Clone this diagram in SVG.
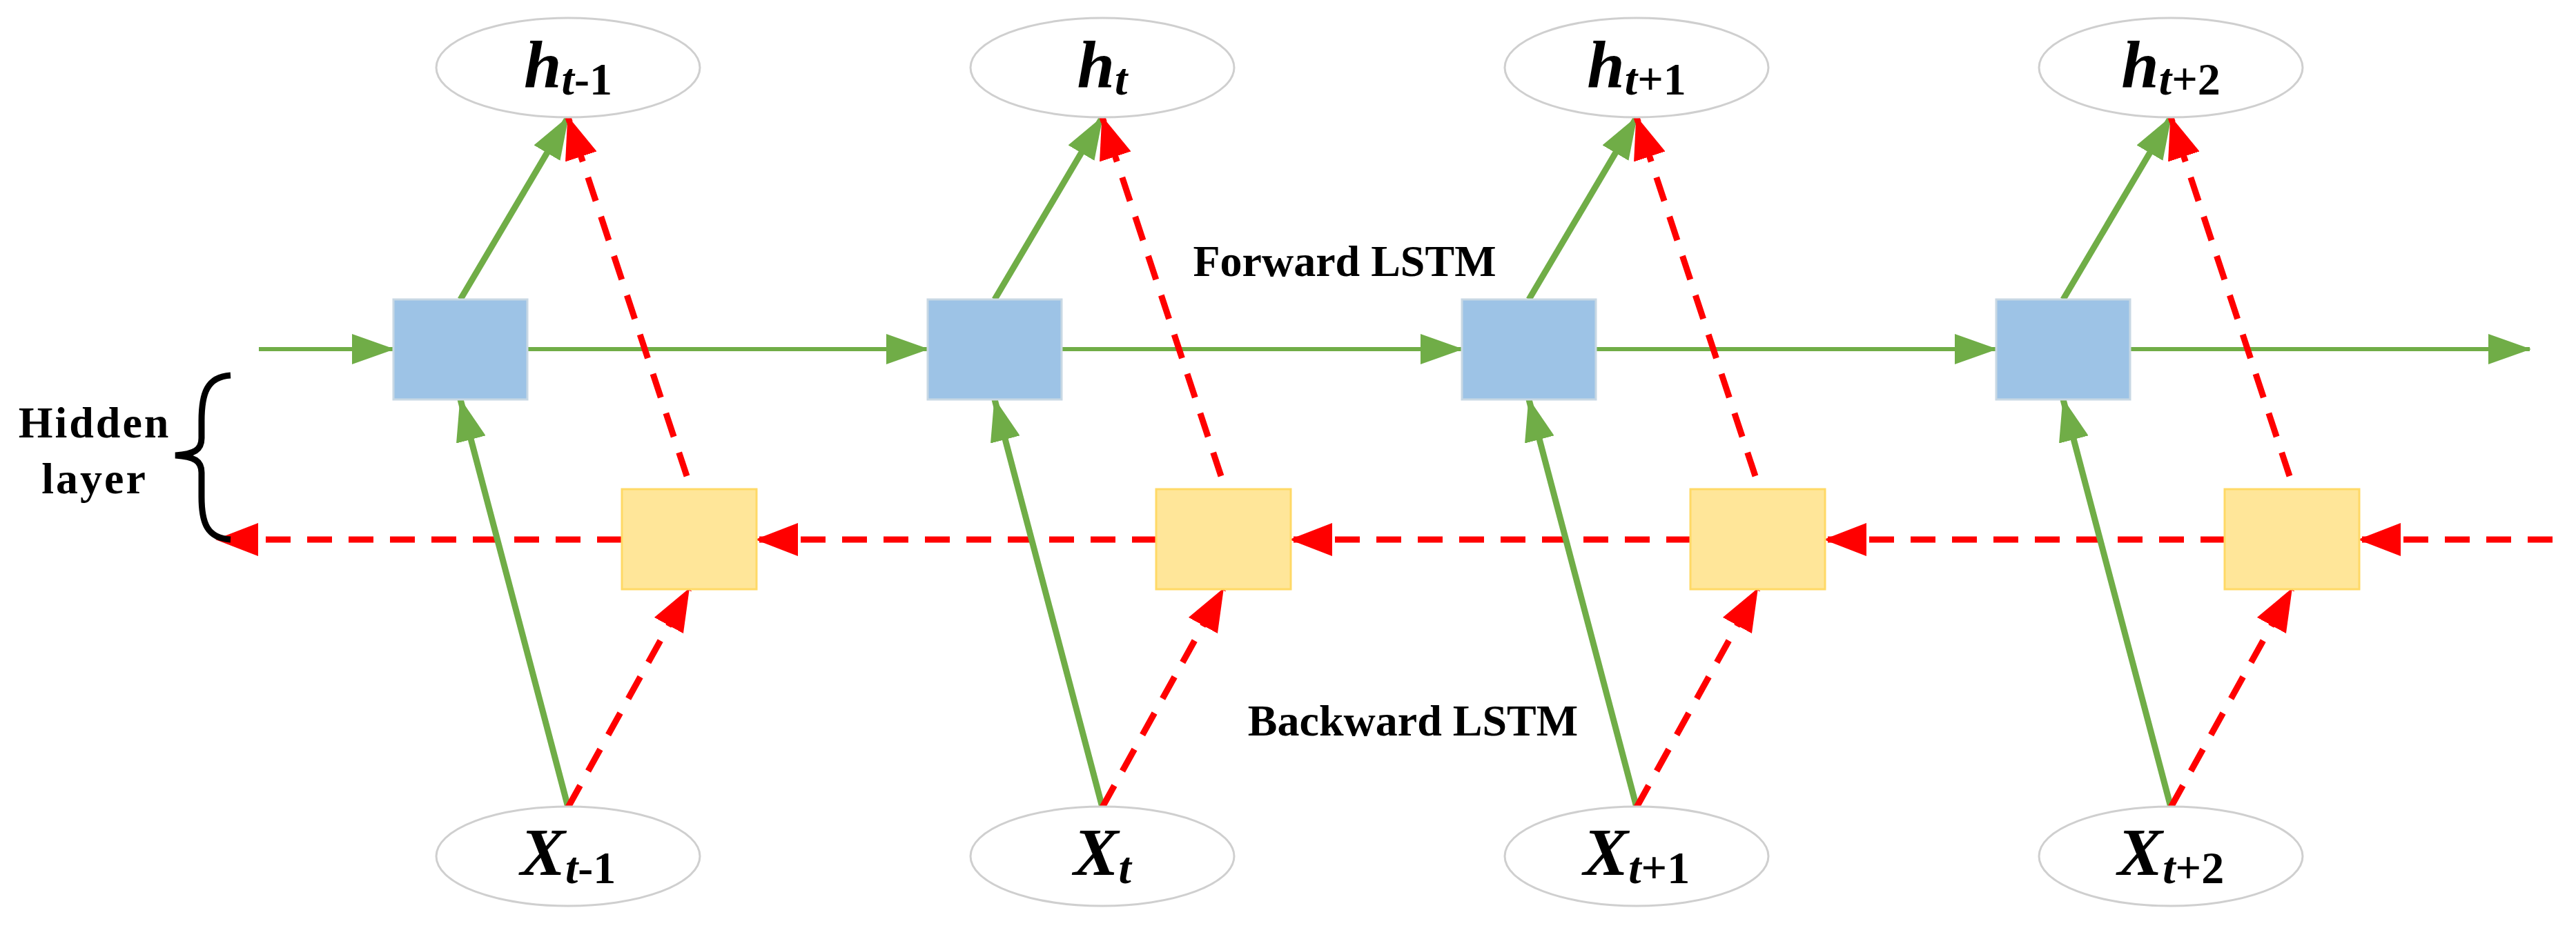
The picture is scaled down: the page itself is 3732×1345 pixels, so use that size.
<svg xmlns="http://www.w3.org/2000/svg" width="3732" height="1345" viewBox="0 0 3732 1345">
<style>
.ell{fill:#fff;stroke:#cfcfcf;stroke-width:3}
.fw{fill:#9dc3e6;stroke:#c8d8e4;stroke-width:3}
.bw{fill:#ffe699;stroke:#ffd966;stroke-width:3}
.g{stroke:#70ad47;stroke-width:9;fill:none}
.gh{stroke:#70ad47;stroke-width:6;fill:none}
.r{stroke:#ff0000;stroke-width:9;fill:none;stroke-dasharray:36 24}
.lbl{font-family:"Liberation Serif",serif;font-weight:bold;font-style:italic;font-size:98px;fill:#000}
.sub{font-size:66px}
.up{font-style:normal}
.t{font-family:"Liberation Serif",serif;font-weight:bold;font-size:64px;fill:#000}
</style>
<defs>
<marker id="ag" markerUnits="userSpaceOnUse" markerWidth="62" markerHeight="44" refX="60" refY="22" orient="auto"><path d="M0,0 L62,22 L0,44 z" fill="#70ad47"/></marker>
<marker id="ar" markerUnits="userSpaceOnUse" markerWidth="62" markerHeight="48" refX="60" refY="24" orient="auto"><path d="M0,0 L62,24 L0,48 z" fill="#ff0000"/></marker>
</defs>
<g id="connectors">
<line class="gh" x1="375" y1="506" x2="570" y2="506" marker-end="url(#ag)"/>
<line class="gh" x1="764" y1="506" x2="1344" y2="506" marker-end="url(#ag)"/>
<line class="gh" x1="1538" y1="506" x2="2118" y2="506" marker-end="url(#ag)"/>
<line class="gh" x1="2312" y1="506" x2="2892" y2="506" marker-end="url(#ag)"/>
<line class="gh" x1="3085" y1="506" x2="3665" y2="506" marker-end="url(#ag)"/>
<line class="r" x1="3698" y1="782" x2="3418" y2="782" marker-end="url(#ar)"/>
<line class="r" x1="3224" y1="782" x2="2644" y2="782" marker-end="url(#ar)"/>
<line class="r" x1="2450" y1="782" x2="1870" y2="782" marker-end="url(#ar)"/>
<line class="r" x1="1676" y1="782" x2="1096" y2="782" marker-end="url(#ar)"/>
<line class="r" x1="901" y1="782" x2="314" y2="782" marker-end="url(#ar)"/>
<g id="col0c">
<line class="g" x1="667" y1="434" x2="823" y2="170" marker-end="url(#ag)"/>
<line class="g" x1="823" y1="1170" x2="667" y2="579" marker-end="url(#ag)"/>
<line class="r" x1="995" y1="690" x2="823" y2="170" marker-end="url(#ar)"/>
<line class="r" x1="823" y1="1170" x2="998" y2="854" marker-end="url(#ar)"/>
</g>
<use href="#col0c" x="774"/>
<use href="#col0c" x="1548"/>
<use href="#col0c" x="2322"/>
</g>
<g id="h0"><ellipse class="ell" cx="823" cy="98" rx="191" ry="72"/><text class="lbl" x="823" y="127" text-anchor="middle">h<tspan class="sub" dy="10">t</tspan><tspan class="sub up">-1</tspan></text></g>
<g id="h1"><ellipse class="ell" cx="1597" cy="98" rx="191" ry="72"/><text class="lbl" x="1597" y="127" text-anchor="middle">h<tspan class="sub" dy="10">t</tspan></text></g>
<g id="h2"><ellipse class="ell" cx="2371" cy="98" rx="191" ry="72"/><text class="lbl" x="2371" y="127" text-anchor="middle">h<tspan class="sub" dy="10">t</tspan><tspan class="sub up">+1</tspan></text></g>
<g id="h3"><ellipse class="ell" cx="3145" cy="98" rx="191" ry="72"/><text class="lbl" x="3145" y="127" text-anchor="middle">h<tspan class="sub" dy="10">t</tspan><tspan class="sub up">+2</tspan></text></g>
<g id="x0"><ellipse class="ell" cx="823" cy="1241" rx="191" ry="72"/><text class="lbl" x="823" y="1268" text-anchor="middle">X<tspan class="sub" dy="12">t</tspan><tspan class="sub up">-1</tspan></text></g>
<g id="x1"><ellipse class="ell" cx="1597" cy="1241" rx="191" ry="72"/><text class="lbl" x="1597" y="1268" text-anchor="middle">X<tspan class="sub" dy="12">t</tspan></text></g>
<g id="x2"><ellipse class="ell" cx="2371" cy="1241" rx="191" ry="72"/><text class="lbl" x="2371" y="1268" text-anchor="middle">X<tspan class="sub" dy="12">t</tspan><tspan class="sub up">+1</tspan></text></g>
<g id="x3"><ellipse class="ell" cx="3145" cy="1241" rx="191" ry="72"/><text class="lbl" x="3145" y="1268" text-anchor="middle">X<tspan class="sub" dy="12">t</tspan><tspan class="sub up">+2</tspan></text></g>
<g id="f0"><rect class="fw" x="570" y="434" width="194" height="145"/></g>
<g id="f1"><rect class="fw" x="1344" y="434" width="194" height="145"/></g>
<g id="f2"><rect class="fw" x="2118" y="434" width="194" height="145"/></g>
<g id="f3"><rect class="fw" x="2892" y="434" width="194" height="145"/></g>
<g id="b0"><rect class="bw" x="901" y="709" width="195" height="145"/></g>
<g id="b1"><rect class="bw" x="1675" y="709" width="195" height="145"/></g>
<g id="b2"><rect class="bw" x="2449" y="709" width="195" height="145"/></g>
<g id="b3"><rect class="bw" x="3223" y="709" width="195" height="145"/></g>
<g id="labels">
<text class="t" x="1948" y="400" text-anchor="middle" font-size="66">Forward LSTM</text>
<text class="t" x="2047" y="1066" text-anchor="middle" font-size="66">Backward LSTM</text>
<text class="t" x="137" y="634" text-anchor="middle" letter-spacing="3">Hidden</text>
<text class="t" x="137" y="715" text-anchor="middle" letter-spacing="3">layer</text>
<path d="M334,544 C300,546 292,570 292,610 L292,635 C292,652 282,658 254,660 C282,662 292,668 292,685 L292,720 C292,758 300,780 334,782" fill="none" stroke="#000" stroke-width="9"/>
</g>
</svg>
